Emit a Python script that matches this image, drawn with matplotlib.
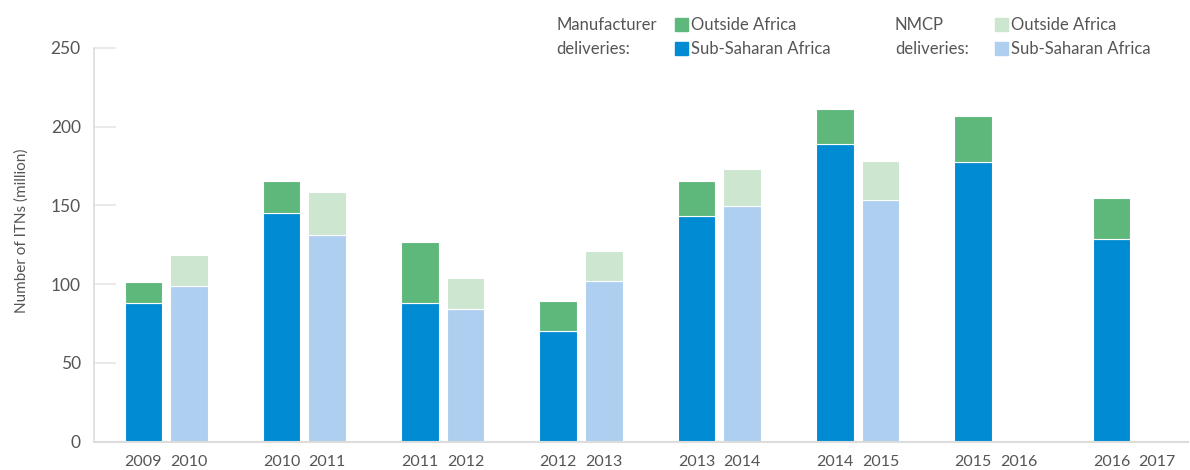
import matplotlib
matplotlib.use('Agg')
import matplotlib.pyplot as plt
from matplotlib.patches import Rectangle
import numpy as np

plt.rcParams['font.family'] = ['Lato', 'DejaVu Sans']

MANUF_YEARS = ['2009', '2010', '2011', '2012', '2013', '2014', '2015', '2016']
NMCP_YEARS = ['2010', '2011', '2012', '2013', '2014', '2015', '2016', '2017']

# million ITNs
manuf_ssa = [87.8, 145.0, 87.8, 70.0, 143.0, 189.0, 177.7, 128.7]
manuf_out = [13.4, 20.4, 38.8, 19.0, 22.4, 22.2, 29.0, 25.9]
nmcp_ssa = [98.6, 131.0, 84.0, 101.8, 149.5, 153.7, 0, 0]
nmcp_out = [19.7, 27.4, 19.7, 19.1, 23.5, 24.2, 0, 0]

C_SSA = '#008bd2'
C_OUT = '#5fb87b'
C_SSA_L = '#aecff0'
C_OUT_L = '#cce6d0'
GREY = '#555555'
AXC = '#dcdcdc'

fig = plt.figure(figsize=(11.9, 4.7), dpi=100)
ax = fig.add_axes([0.079, 0.0606, 0.919, 0.8374])

x = np.arange(len(MANUF_YEARS))
off = 0.165
w = 0.271
xm = x - off
xn = x + off

kw = dict(width=w, edgecolor='white', linewidth=0.8)
ax.bar(xm, manuf_ssa, color=C_SSA, **kw)
ax.bar(xm, manuf_out, bottom=manuf_ssa, color=C_OUT, **kw)
ax.bar(xn, nmcp_ssa, color=C_SSA_L, **kw)
ax.bar(xn, nmcp_out, bottom=nmcp_ssa, color=C_OUT_L, **kw)

ax.set_ylim(0, 250)
ax.set_xlim(-0.521, 7.386)
ax.set_yticks([0, 50, 100, 150, 200, 250])
ax.tick_params(axis='y', direction='in', length=16, width=1.2, color='#e6e6e6',
               labelsize=12.5, labelcolor=GREY, pad=9.5)

ticks = np.concatenate([xm, xn])
labels = MANUF_YEARS + NMCP_YEARS
ax.set_xticks(ticks)
ax.set_xticklabels(labels)
ax.tick_params(axis='x', length=0, labelsize=11.5, labelcolor=GREY, pad=10)

for s in ['top', 'right']:
    ax.spines[s].set_visible(False)
ax.spines['left'].set_color(AXC)
ax.spines['bottom'].set_color(AXC)
ax.spines['left'].set_linewidth(1.2)
ax.spines['bottom'].set_linewidth(1.5)

fig.text(0.0185, 0.51, 'Number of ITNs (million)', rotation=90, ha='center', va='center',
         fontsize=11, color=GREY)

# legend, placed in pixel units of the figure
H = 470.0
W = 1190.0
def leg_text(px, py, s):
    fig.text(px / W, 1 - py / H, s, fontsize=12, color=GREY, ha='left', va='center')

def leg_box(px, py, c):
    fig.patches.append(Rectangle((px / W, 1 - (py + 6.5) / H), 13 / W, 13 / H,
                                 transform=fig.transFigure, color=c, figure=fig))

r1, r2 = 24.5, 48.5
leg_text(556, r1, 'Manufacturer')
leg_text(556, r2, 'deliveries:')
leg_box(675, r1 - 0.5, C_OUT)
leg_box(675, r2 - 0.5, C_SSA)
leg_text(691, r1, 'Outside Africa')
leg_text(691, r2, 'Sub-Saharan Africa')

leg_text(895, r1, 'NMCP')
leg_text(895, r2, 'deliveries:')
leg_box(995, r1 - 0.5, C_OUT_L)
leg_box(995, r2 - 0.5, C_SSA_L)
leg_text(1011, r1, 'Outside Africa')
leg_text(1011, r2, 'Sub-Saharan Africa')

fig.savefig('out.png', dpi=100)
